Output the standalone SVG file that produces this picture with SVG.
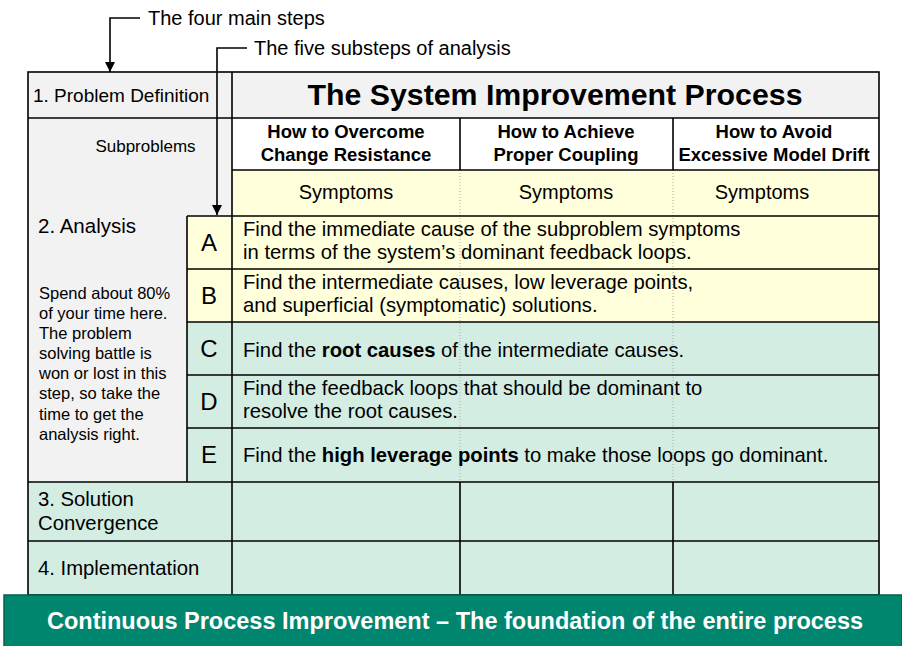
<svg xmlns="http://www.w3.org/2000/svg" width="902" height="646" viewBox="0 0 902 646">
<style>
text{font-family:"Liberation Sans",Arial,sans-serif;fill:#000}
.grey{fill:#f2f2f2}
.yel{fill:#ffffdc}
.grn{fill:#d3ede3}
.ln{stroke:#000;stroke-width:1.6;fill:none}
.dot{stroke:#aaa;stroke-width:1;stroke-dasharray:1 2;fill:none}
.lab{font-size:20px}
.hd{font-size:18.5px;font-weight:bold;text-anchor:middle}
.sym{font-size:20px;text-anchor:middle}
.let{font-size:24px;text-anchor:middle}
.row{font-size:20.25px}
.note{font-size:16.5px}
.st{font-size:20.3px}
</style>
<defs>
<marker id="ah" viewBox="0 0 10 10" refX="10" refY="5" markerWidth="10" markerHeight="10" markerUnits="userSpaceOnUse" orient="auto">
<path d="M0,0 L10,5 L0,10 z" fill="#000"/>
</marker>
</defs>
<rect width="902" height="646" fill="#fff"/>
<g id="table">
<rect x="28" y="72" width="851" height="523" class="grey"/>
<rect x="232" y="118" width="647" height="52" fill="#fff"/>
<rect x="232" y="170" width="647" height="46" class="yel"/>
<rect x="187" y="216" width="692" height="106" class="yel"/>
<rect x="187" y="322" width="692" height="160" class="grn"/>
<rect x="28" y="482" width="851" height="113" class="grn"/>
<line x1="460" y1="170" x2="460" y2="482" class="dot"/>
<line x1="673" y1="170" x2="673" y2="482" class="dot"/>
<rect x="28" y="72" width="851" height="523" class="ln"/>
<line x1="28" y1="118" x2="879" y2="118" class="ln"/>
<line x1="232" y1="170" x2="879" y2="170" class="ln"/>
<line x1="187" y1="216" x2="879" y2="216" class="ln"/>
<line x1="187" y1="269" x2="879" y2="269" class="ln"/>
<line x1="187" y1="322" x2="879" y2="322" class="ln"/>
<line x1="187" y1="375" x2="879" y2="375" class="ln"/>
<line x1="187" y1="428" x2="879" y2="428" class="ln"/>
<line x1="28" y1="482" x2="879" y2="482" class="ln"/>
<line x1="28" y1="541" x2="879" y2="541" class="ln"/>
<line x1="232" y1="72" x2="232" y2="595" class="ln"/>
<line x1="187" y1="216" x2="187" y2="482" class="ln"/>
<line x1="460" y1="118" x2="460" y2="170" class="ln"/>
<line x1="673" y1="118" x2="673" y2="170" class="ln"/>
<line x1="460" y1="482" x2="460" y2="595" class="ln"/>
<line x1="673" y1="482" x2="673" y2="595" class="ln"/>
</g>
<g id="title"><text x="555" y="105" font-size="30.3" font-weight="bold" text-anchor="middle">The System Improvement Process</text></g>
<g id="step1"><text x="33" y="102" font-size="19">1. Problem Definition</text></g>
<g id="subproblems"><text x="145.5" y="152" font-size="17" text-anchor="middle">Subproblems</text></g>
<g id="col1"><text x="346" y="138" class="hd">How to Overcome</text><text x="346" y="161" class="hd">Change Resistance</text></g>
<g id="col2"><text x="566" y="138" class="hd">How to Achieve</text><text x="566" y="161" class="hd">Proper Coupling</text></g>
<g id="col3"><text x="774" y="138" class="hd">How to Avoid</text><text x="774" y="161" class="hd">Excessive Model Drift</text></g>
<g id="symptoms">
<text x="346" y="199" class="sym">Symptoms</text>
<text x="566" y="199" class="sym">Symptoms</text>
<text x="762" y="199" class="sym">Symptoms</text>
</g>
<g id="step2">
<text x="38" y="233" font-size="20.5">2. Analysis</text>
<text class="note" x="39" y="299">Spend about 80%</text>
<text class="note" x="39" y="319">of your time here.</text>
<text class="note" x="39" y="339">The problem</text>
<text class="note" x="39" y="359">solving battle is</text>
<text class="note" x="39" y="379">won or lost in this</text>
<text class="note" x="39" y="399">step, so take the</text>
<text class="note" x="39" y="420">time to get the</text>
<text class="note" x="39" y="440">analysis right.</text>
</g>
<g id="subA"><text x="209" y="251" class="let">A</text><text x="243" y="236" class="row">Find the immediate cause of the subproblem symptoms</text><text x="243" y="259" class="row">in terms of the system’s dominant feedback loops.</text></g>
<g id="subB"><text x="209" y="304" class="let">B</text><text x="243" y="289" class="row">Find the intermediate causes, low leverage points,</text><text x="243" y="312" class="row">and superficial (symptomatic) solutions.</text></g>
<g id="subC"><text x="209" y="357" class="let">C</text><text x="243" y="357" class="row">Find the <tspan font-weight="bold">root causes</tspan> of the intermediate causes.</text></g>
<g id="subD"><text x="209" y="410" class="let">D</text><text x="243" y="395" class="row">Find the feedback loops that should be dominant to</text><text x="243" y="418" class="row">resolve the root causes.</text></g>
<g id="subE"><text x="209" y="463" class="let">E</text><text x="243" y="462" class="row">Find the <tspan font-weight="bold">high leverage points</tspan> to make those loops go dominant.</text></g>
<g id="step3"><text x="38" y="506" class="st">3. Solution</text><text x="38" y="530" class="st">Convergence</text></g>
<g id="step4"><text x="38" y="575" class="st">4. Implementation</text></g>
<g id="foundation">
<rect x="4" y="595" width="898" height="52" fill="#00866f" stroke="#04604f" stroke-width="1.5"/>
<text x="455" y="629" font-size="23.5" font-weight="bold" text-anchor="middle" style="fill:#fff">Continuous Process Improvement – The foundation of the entire process</text>
</g>
<g id="labels">
<text x="148" y="25" class="lab">The four main steps</text>
<text x="254" y="55" class="lab">The five substeps of analysis</text>
</g>
<g id="connectors">
<path d="M140,18 H110 V72" class="ln" stroke-width="1.3" marker-end="url(#ah)"/>
<path d="M247,48 H217 V215" class="ln" stroke-width="1.3" marker-end="url(#ah)"/>
</g>
</svg>
